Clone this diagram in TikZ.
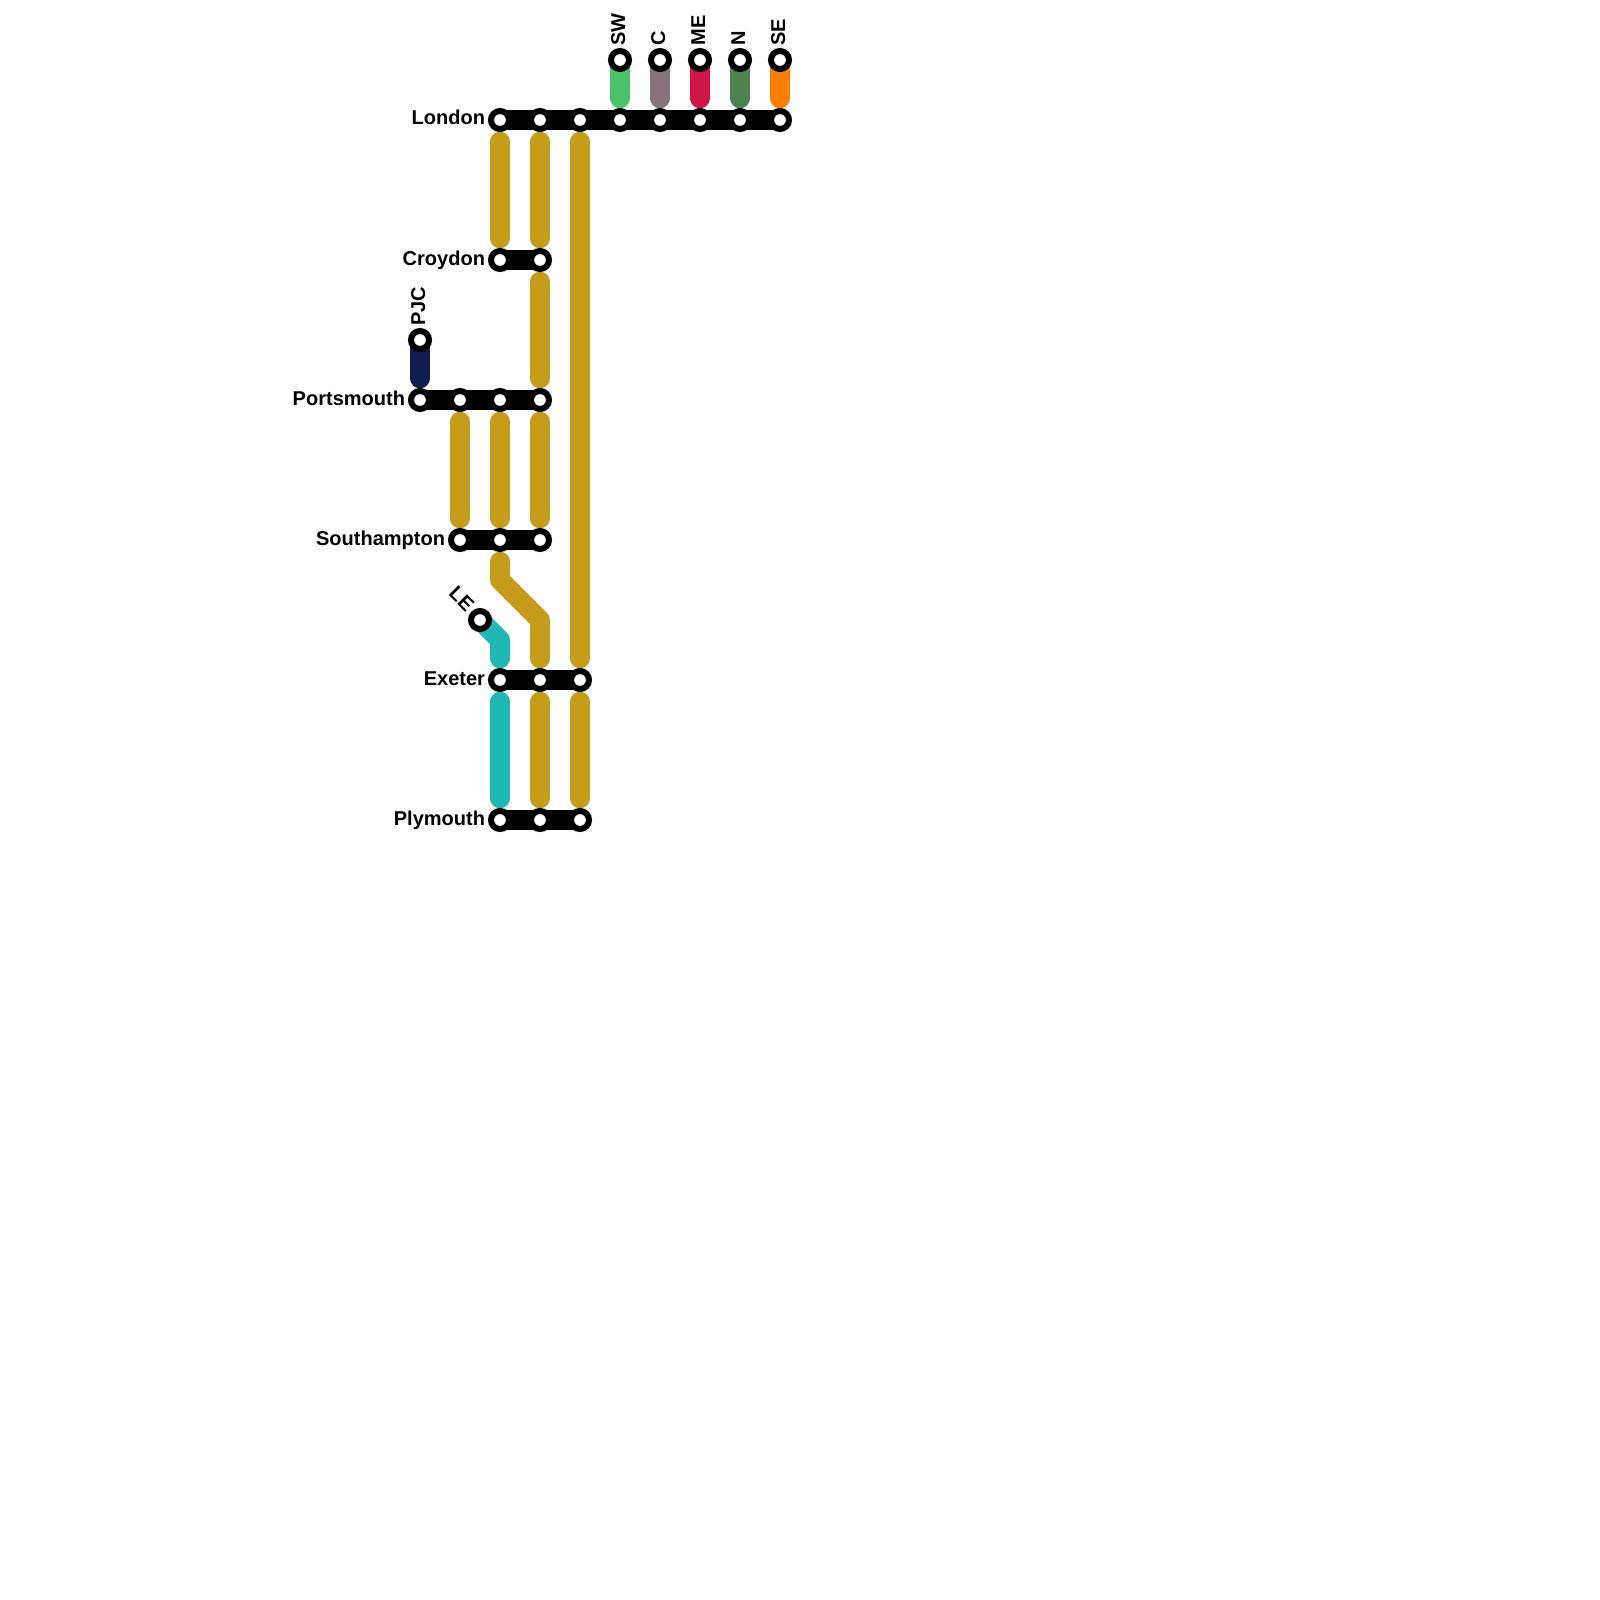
\documentclass[tikz,border=0pt]{standalone}
\usepackage{fontspec}
\setmainfont{Liberation Sans}
\definecolor{routegold}{RGB}{198, 156, 29}
\definecolor{routeteal}{RGB}{32, 184, 180}
\definecolor{routenavy}{RGB}{15, 28, 77}
\definecolor{routesw}{RGB}{76, 195, 104}
\definecolor{routec}{RGB}{133, 116, 124}
\definecolor{routeme}{RGB}{208, 21, 72}
\definecolor{routen}{RGB}{78, 131, 80}
\definecolor{routese}{RGB}{255, 126, 0}
\usetikzlibrary{backgrounds}
\tikzset{
  station/.style={circle, draw=black, fill=white, line width=0.06cm, minimum size=0.18cm, inner sep=0pt, outer sep=0pt},
  stnlabel/.style={inner sep=0pt, outer sep=0pt, font=\fontsize{5.69}{6.8}\selectfont\bfseries},
  hub/.style={line width=0.2cm, line cap=round, draw=black},
  branch/.style={line width=0.2cm, line cap=round, line join=round, shorten >=0.217cm},
  route/.style={branch, shorten <=0.217cm},
}

\begin{document}
\begin{tikzpicture}[x=0.01cm, y=-0.01cm]
  \useasboundingbox (0,0) rectangle (1600,1600);

  % stations
  \foreach \name/\x/\y in {sw/620/60, c/660/60, me/700/60, n/740/60, se/780/60,
      lonA/500/120, lonB/540/120, lonC/580/120, lonD/620/120, lonE/660/120, lonF/700/120, lonG/740/120, lonH/780/120,
      croA/500/260, croB/540/260, pjc/420/340,
      porA/420/400, porB/460/400, porC/500/400, porD/540/400,
      souA/460/540, souB/500/540, souC/540/540, le/480/620,
      exeA/500/680, exeB/540/680, exeC/580/680,
      plyA/500/820, plyB/540/820, plyC/580/820}
    \node[station] (\name) at (\x,\y) {};

  % city labels
  \foreach \name/\txt/\x/\y in {lonlabel/London/485/125, crolabel/Croydon/485/265, porlabel/Portsmouth/405/405,
      soulabel/Southampton/445/545, exelabel/Exeter/485/685, plylabel/Plymouth/485/825}
    \node[stnlabel, anchor=base east] (\name) at (\x,\y) {\txt};

  % operator labels
  \foreach \name/\txt/\x/\y in {swlabel/SW/625/45.5, clabel/C/665/45.5, melabel/ME/705/45.5, nlabel/N/745/45.5, selabel/SE/785/45.5, pjclabel/PJC/425/325.5}
    \node[stnlabel, anchor=base west, rotate=90] (\name) at (\x,\y) {\txt};
  \node[stnlabel, anchor=base east, rotate=-45] (lelabel) at (465.9,612.9) {LE};

  \coordinate (goldbendA) at (500,580);
  \coordinate (goldbendB) at (540,620);
  \coordinate (tealbend) at (500,640);

  \begin{pgfonlayer}{background}
    % operators
    \draw[branch, routesw] (sw.center) -- (lonD.center);
    \draw[branch, routec] (c.center) -- (lonE.center);
    \draw[branch, routeme] (me.center) -- (lonF.center);
    \draw[branch, routen] (n.center) -- (lonG.center);
    \draw[branch, routese] (se.center) -- (lonH.center);
    \draw[branch, routenavy] (pjc.center) -- (porA.center);
    \draw[branch, routeteal] (le.center) -- (tealbend) -- (exeA.center);
    % routes
    \draw[route, routeteal] (exeA.center) -- (plyA.center);
    \foreach \from/\to in {lonA/croA, lonB/croB, croB/porD, lonC/exeC, porB/souA, porC/souB, porD/souC, exeB/plyB, exeC/plyC}
      \draw[route, routegold] (\from.center) -- (\to.center);
    \draw[route, routegold] (souB.center) -- (goldbendA) -- (goldbendB) -- (exeB.center);
    % cities
    \draw[hub] (lonA.center) -- (lonH.center);
    \draw[hub] (croA.center) -- (croB.center);
    \draw[hub] (porA.center) -- (porD.center);
    \draw[hub] (souA.center) -- (souC.center);
    \draw[hub] (exeA.center) -- (exeC.center);
    \draw[hub] (plyA.center) -- (plyC.center);
  \end{pgfonlayer}
\end{tikzpicture}
\end{document}
